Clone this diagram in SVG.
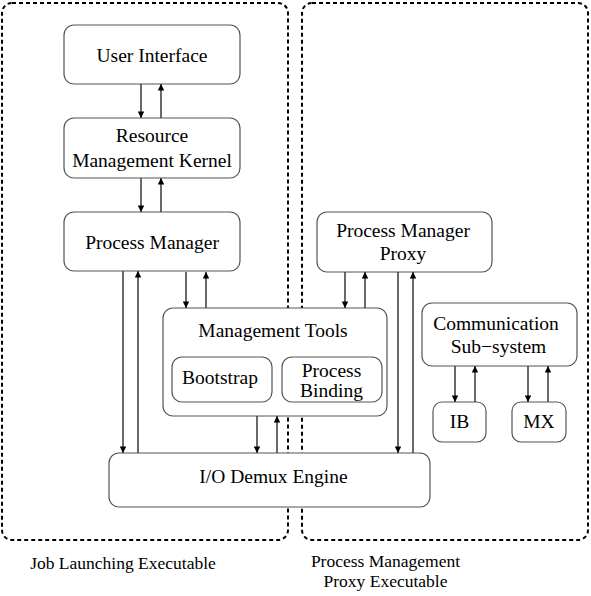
<svg xmlns="http://www.w3.org/2000/svg" width="591" height="596" viewBox="0 0 591 596">
<defs>
<marker id="ah" viewBox="0 0 10 10" refX="10" refY="5" markerWidth="10" markerHeight="6.5" markerUnits="userSpaceOnUse" orient="auto">
<path d="M0,0 L10,5 L0,10 z" fill="#000"/>
</marker>
<style>
.box{fill:#fff;stroke:#555;stroke-width:1.2}
.dash{fill:none;stroke:#000;stroke-width:2;stroke-dasharray:4 3}
text{font-family:'Liberation Serif','DejaVu Serif',serif;fill:#000;text-anchor:middle}
.t{font-size:19.5px}
.lb{font-size:17.5px}
.ar{stroke:#444;stroke-width:1.6;fill:none;marker-end:url(#ah)}
</style>
</defs>
<rect width="591" height="596" fill="#fff"/>
<g id="job-launching-executable">
<rect class="dash" x="2" y="3" width="286" height="537" rx="10"/>
<text class="lb" x="123" y="569" font-family="Liberation Serif, serif">Job Launching Executable</text>
</g>
<g id="process-management-proxy-executable">
<rect class="dash" x="302" y="3" width="286" height="537" rx="10"/>
<text class="lb" x="385.5" y="567">Process Management</text>
<text class="lb" x="385.5" y="587">Proxy Executable</text>
</g>
<g id="user-interface">
<rect class="box" x="64" y="25" width="176" height="59" rx="10"/>
<text class="t" x="152" y="62">User Interface</text>
</g>
<g id="resource-management-kernel">
<rect class="box" x="64" y="118" width="176" height="60" rx="10"/>
<text class="t" x="152" y="142">Resource</text>
<text class="t" x="152" y="167">Management Kernel</text>
</g>
<g id="process-manager">
<rect class="box" x="64" y="212" width="176" height="59" rx="10"/>
<text class="t" x="152" y="249">Process Manager</text>
</g>
<g id="management-tools">
<rect class="box" x="163" y="308" width="224" height="108" rx="10"/>
<text class="t" x="273" y="337">Management Tools</text>
</g>
<g id="bootstrap">
<rect class="box" x="172" y="357" width="100" height="45" rx="10"/>
<text class="t" x="220" y="384">Bootstrap</text>
</g>
<g id="process-binding">
<rect class="box" x="282" y="357" width="100" height="45" rx="10"/>
<text class="t" x="331.5" y="377">Process</text>
<text class="t" x="331.5" y="397">Binding</text>
</g>
<g id="io-demux-engine">
<rect class="box" x="109" y="453" width="321" height="54" rx="10"/>
<text class="t" x="273.5" y="483">I/O Demux Engine</text>
</g>
<g id="process-manager-proxy">
<rect class="box" x="317" y="212" width="175" height="60" rx="10"/>
<text class="t" x="403" y="237">Process Manager</text>
<text class="t" x="403" y="260">Proxy</text>
</g>
<g id="communication-subsystem">
<rect class="box" x="422" y="303" width="155" height="63" rx="10"/>
<text class="t" x="496" y="330">Communication</text>
<text class="t" x="498.5" y="353">Sub−system</text>
</g>
<g id="ib">
<rect class="box" x="433" y="402" width="53" height="40" rx="9"/>
<text class="t" x="459.5" y="428">IB</text>
</g>
<g id="mx">
<rect class="box" x="512" y="402" width="54" height="40" rx="9"/>
<text class="t" x="539" y="428">MX</text>
</g>
<g id="connectors">
<line class="ar" x1="141" y1="84" x2="141" y2="118"/>
<line class="ar" x1="161" y1="118" x2="161" y2="84"/>
<line class="ar" x1="141" y1="178" x2="141" y2="212"/>
<line class="ar" x1="161" y1="212" x2="161" y2="178"/>
<line class="ar" x1="123" y1="271" x2="123" y2="453"/>
<line class="ar" x1="138" y1="453" x2="138" y2="271"/>
<line class="ar" x1="186" y1="272" x2="186" y2="308"/>
<line class="ar" x1="206" y1="308" x2="206" y2="272"/>
<line class="ar" x1="257" y1="416" x2="257" y2="453"/>
<line class="ar" x1="277" y1="453" x2="277" y2="416"/>
<line class="ar" x1="345" y1="272" x2="345" y2="308"/>
<line class="ar" x1="365" y1="308" x2="365" y2="272"/>
<line class="ar" x1="398" y1="272" x2="398" y2="453"/>
<line class="ar" x1="413" y1="453" x2="413" y2="272"/>
<line class="ar" x1="455" y1="366" x2="455" y2="402"/>
<line class="ar" x1="475" y1="402" x2="475" y2="366"/>
<line class="ar" x1="528" y1="366" x2="528" y2="402"/>
<line class="ar" x1="548" y1="402" x2="548" y2="366"/>
</g>
</svg>
